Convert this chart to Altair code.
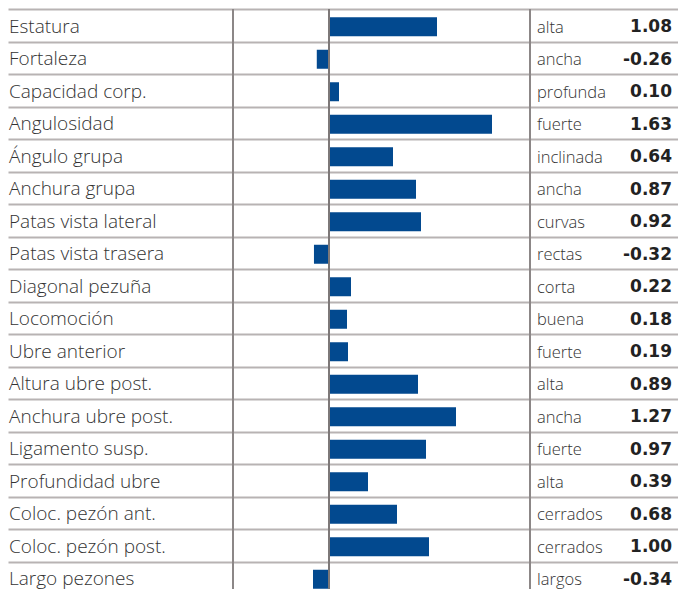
import altair as alt
import pandas as pd

traits = ["Estatura", "Fortaleza", "Capacidad corp.", "Angulosidad", "Ángulo grupa",
          "Anchura grupa", "Patas vista lateral", "Patas vista trasera", "Diagonal pezuña",
          "Locomoción", "Ubre anterior", "Altura ubre post.", "Anchura ubre post.",
          "Ligamento susp.", "Profundidad ubre", "Coloc. pezón ant.", "Coloc. pezón post.",
          "Largo pezones"]
values = [1.08, -0.26, 0.10, 1.63, 0.64, 0.87, 0.92, -0.32, 0.22, 0.18, 0.19, 0.89,
          1.27, 0.97, 0.39, 0.68, 1.00, -0.34]
descriptors = ["alta", "ancha", "profunda", "fuerte", "inclinada", "ancha", "curvas",
               "rectas", "corta", "buena", "fuerte", "alta", "ancha", "fuerte", "alta",
               "cerrados", "cerrados", "largos"]

df = pd.DataFrame({"trait": traits, "value": values, "desc": descriptors})
df["label"] = df["value"].map(lambda v: f"{v:.2f}")

FONT = "Open Sans"
W, H = 670, 585

y = alt.Y("trait:N", sort=traits,
          scale=alt.Scale(paddingInner=0, paddingOuter=0),
          axis=alt.Axis(labels=False, ticks=False, domain=False, grid=True,
                        tickBand="extent", gridColor="#b8b3b3", gridWidth=2,
                        title=None))
# negative side is drawn at a smaller scale than the positive side (as in the source)
xscale = alt.Scale(domain=[-6.83, 0, 3.49], range=[0, 321, W], nice=False, zero=False)

base = alt.Chart(df)

bars = base.mark_bar(color="#02498f", size=19, yOffset=1.5).encode(
    x=alt.X("value:Q", scale=xscale, axis=None),
    x2=alt.datum(0),
    y=y,
)

names = base.mark_text(align="left", baseline="middle", font=FONT, fontSize=19,
                       fontWeight=300, color="#333333", dy=1.5).encode(
    x=alt.value(1), y=y, text="trait:N")

descs = base.mark_text(align="left", baseline="middle", font=FONT, fontSize=16.5,
                       fontWeight=300, color="#333333", dy=2.5).encode(
    x=alt.value(529), y=y, text="desc:N")

vals = base.mark_text(align="right", baseline="middle", font="DejaVu Sans", fontSize=17,
                      fontWeight="bold", color="#222222", dy=2).encode(
    x=alt.value(664), y=y, text="label:N")

one = alt.Chart(pd.DataFrame({"k": [0]}))
div1 = one.mark_rule(color="#8c8787", strokeWidth=2).encode(x=alt.value(225))
div2 = one.mark_rule(color="#8c8787", strokeWidth=2).encode(x=alt.value(522))
zero = one.mark_rule(color="#7d7878", strokeWidth=2).encode(
    x=alt.datum(0, scale=xscale))

chart = alt.layer(div1, div2, bars, zero, names, descs, vals).properties(
    width=W, height=H, padding={"left": 0, "top": 0, "right": 0, "bottom": 0}
).configure_view(stroke=None)

chart.save("out.html", embed_options={"renderer": "svg", "actions": False})
